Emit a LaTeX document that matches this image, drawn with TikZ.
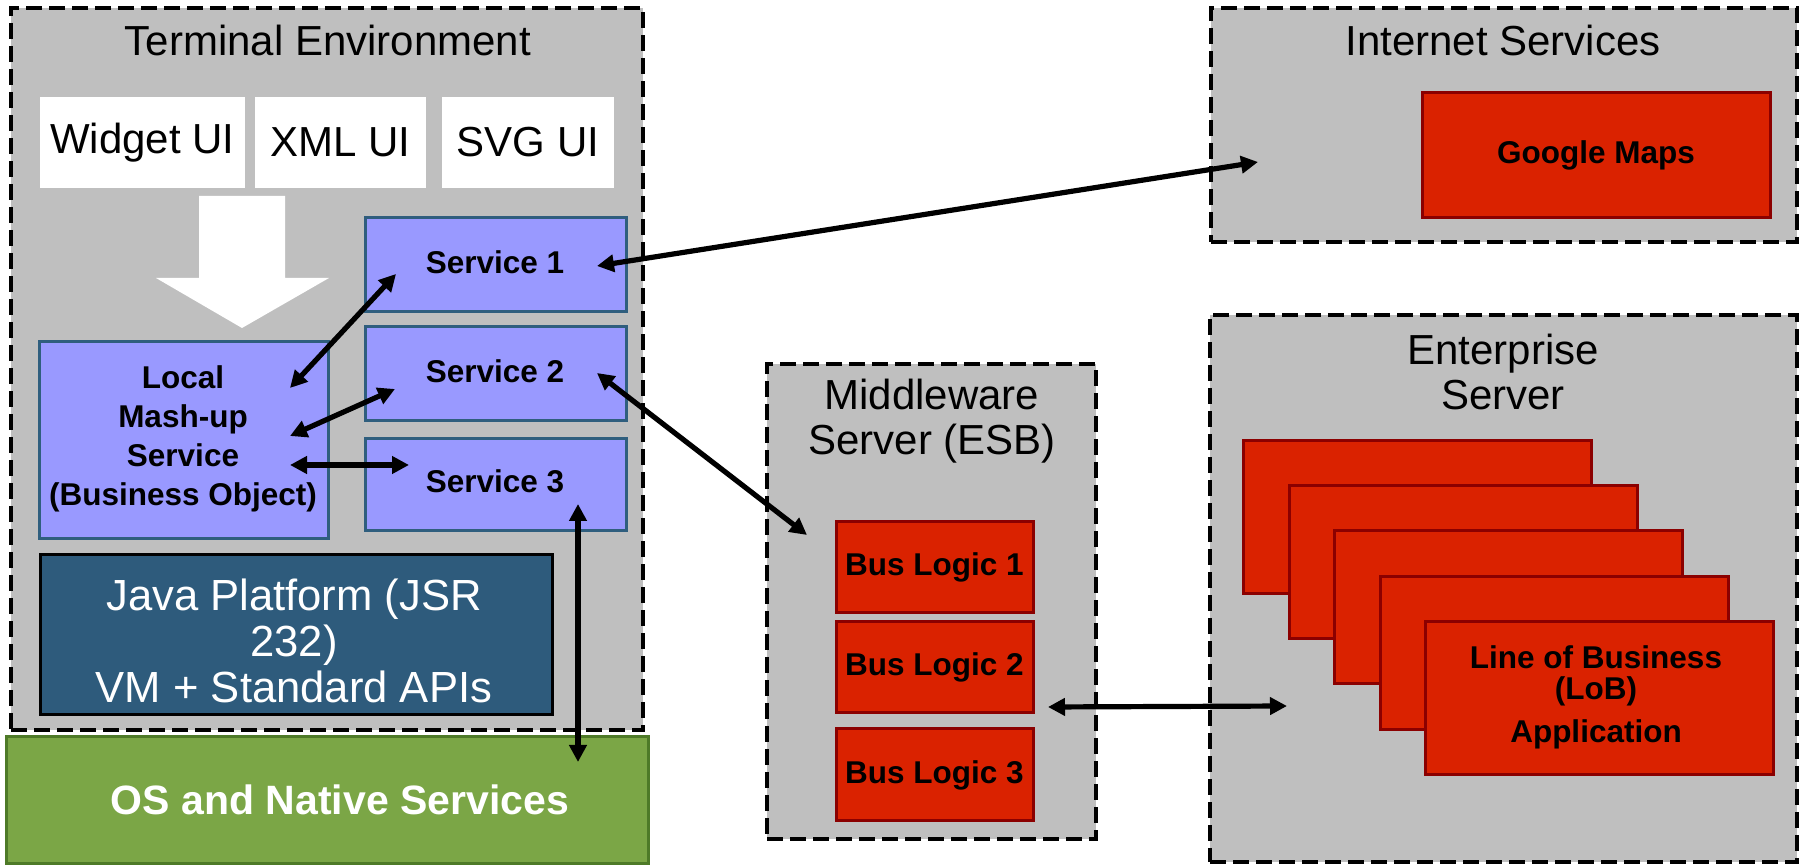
\documentclass[tikz,border=0pt]{standalone}
\usepackage{fontspec}
\setmainfont{Liberation Sans}
\usetikzlibrary{fit,arrows.meta}
\definecolor{bggray}{HTML}{BFBFBF}
\definecolor{svcfill}{HTML}{9999FF}
\definecolor{svcline}{HTML}{2F5E7E}
\definecolor{javafill}{HTML}{2E5B7C}
\definecolor{osfill}{HTML}{7BA646}
\definecolor{osline}{HTML}{4E7A28}
\definecolor{redfill}{HTML}{DA2200}
\definecolor{redline}{HTML}{8B0000}
\newcommand\ttlfont{\fontsize{21}{22.5}\selectfont}
\newcommand\lblfont{\fontsize{15.75}{19.5}\selectfont\bfseries}
\begin{document}
\begin{tikzpicture}[x=0.5pt,y=-0.5pt,
  container/.style={draw=black, line width=2pt, dash pattern=on 8pt off 3.5pt, fill=bggray, inner sep=0pt},
  plainbox/.style={fill=white, inner sep=0pt},
  svcbox/.style={draw=svcline, line width=1.5pt, fill=svcfill, inner sep=0pt},
  redbox/.style={draw=redline, line width=1.5pt, fill=redfill, inner sep=0pt},
  ttl/.style={font=\ttlfont, align=center, inner sep=0pt},
  lbl/.style={font=\lblfont, align=center, inner sep=0pt},
  conn/.style={{Triangle[length=8.5pt,width=8.5pt]}-{Triangle[length=8.5pt,width=8.5pt]}, line width=2.6pt, black},
]
\useasboundingbox (0,0) rectangle (1801,865);

% containers
\node[container, fit={(11,8) (643,730)}] (term) {};
\node[ttl] (termttl) at (328,40) {Terminal Environment};
\node[container, fit={(1211,8) (1797,242)}] (inet) {};
\node[ttl] (inetttl) at (1503,40) {Internet Services};
\node[container, fit={(767,364) (1096,839)}] (mid) {};
\node[ttl] (midttl) at (932,421) {Middleware\\Server (ESB)};
\node[container, fit={(1210,315) (1797,862)}] (ent) {};
\node[ttl] (entttl) at (1503,372) {Enterprise\\Server};

% terminal content
\node[plainbox, fit={(40,97) (245,188)}] (widget) {};
\node[ttl] (widgett) at (widget.center) {Widget UI};
\node[plainbox, fit={(255,97) (426,188)}] (xmlui) {};
\node[ttl] (xmlt) at (xmlui.center) {XML UI};
\node[plainbox, fit={(442,97) (614,188)}] (svgui) {};
\node[ttl] (svgt) at (svgui.center) {SVG UI};
\fill[white] (199,196) -- (285,196) -- (285,278) -- (329,278) -- (242,328) -- (156,278) -- (199,278) -- cycle;

\node[svcbox, fit={(365,218) (626,312)}] (s1) {};
\node[lbl] (s1t) at (495,262) {Service 1};
\node[svcbox, fit={(365,327) (626,421)}] (s2) {};
\node[lbl] (s2t) at (495,371) {Service 2};
\node[svcbox, fit={(365,439) (626,531)}] (s3) {};
\node[lbl] (s3t) at (495,481) {Service 3};
\node[svcbox, fit={(39,342) (328,539)}] (local) {};
\node[lbl] (localt) at (183,439) {Local\\Mash-up\\Service\\(Business Object)};

\node[draw=black, line width=1.5pt, fill=javafill, inner sep=0pt, fit={(40,555) (552,715)}] (java) {};
\node[inner sep=0pt, text=white, align=center, font=\fontsize{21.8}{23}\selectfont] (javat) at (294,641)
      {Java Platform (JSR\\232)\\VM + Standard APIs};

\node[draw=osline, line width=1.5pt, fill=osfill, inner sep=0pt, fit={(6,737) (648,864)}] (os) {};
\node[inner sep=0pt, text=white, font=\fontsize{20.5}{23}\selectfont\bfseries] (ost) at (340,800)
      {OS and Native Services};

% internet
\node[redbox, fit={(1422,93) (1770,218)}] (gmaps) {};
\node[lbl] (gmapst) at (gmaps.center) {Google Maps};

% middleware
\node[redbox, fit={(836,522) (1033,613)}] (bus1) {};
\node[lbl] (bus1t) at (bus1.center) {Bus Logic 1};
\node[redbox, fit={(836,622) (1033,713)}] (bus2) {};
\node[lbl] (bus2t) at (bus2.center) {Bus Logic 2};
\node[redbox, fit={(836,729) (1033,821)}] (bus3) {};
\node[lbl] (bus3t) at (bus3.center) {Bus Logic 3};

% enterprise cards
\node[redbox, fit={(1243,441) (1591,594)}] (card0) {};
\node[redbox, fit={(1289,486) (1637,639)}] (card1) {};
\node[redbox, fit={(1334,531) (1682,684)}] (card2) {};
\node[redbox, fit={(1380,577) (1728,730)}] (card3) {};
\node[redbox, fit={(1425,622) (1773,775)}] (card4) {};
\node[lbl, font=\fontsize{15.75}{15.5}\selectfont\bfseries] (card4t) at (1596,697)
  {Line of Business\\(LoB)\\[6pt]Application};

% connector end points
\coordinate (s1in) at (597,266);
\coordinate (inetin) at (1258,162);
\coordinate (loc1) at (290,388);
\coordinate (s1l) at (396,274);
\coordinate (loc2) at (290,436);
\coordinate (s2l) at (395,389);
\coordinate (loc3) at (290,465);
\coordinate (s3l) at (409,465);
\coordinate (s2in) at (597,373);
\coordinate (midin) at (807,535);
\coordinate (s3in) at (578,504);
\coordinate (osin) at (578,762);
\coordinate (midout) at (1048,707);
\coordinate (entin) at (1287,706);

\draw[conn] (s1in) -- (inetin);
\draw[conn] (loc1) -- (s1l);
\draw[conn] (loc2) -- (s2l);
\draw[conn] (loc3) -- (s3l);
\draw[conn] (s2in) -- (midin);
\draw[conn] (s3in) -- (osin);
\draw[conn] (midout) -- (entin);
\end{tikzpicture}
\end{document}
